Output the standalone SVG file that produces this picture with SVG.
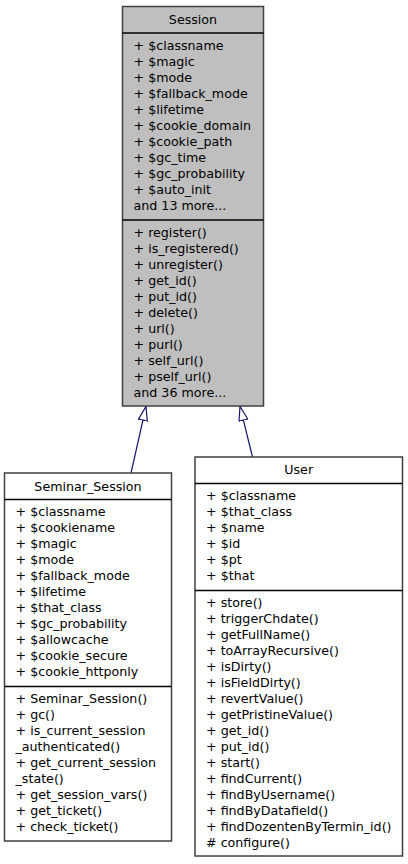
<svg xmlns="http://www.w3.org/2000/svg" width="408" height="864" viewBox="0 0 408 864">
<defs>
<style>
.box{stroke:#404040;stroke-width:1.5}
.cur{fill:#bfbfbf}
.plain{fill:#ffffff}
.sep{stroke:#000000;stroke-width:1.5}
text{font-family:"DejaVu Sans","Liberation Sans",sans-serif;font-size:12.67px;fill:#000000}
.t{text-anchor:middle}
.edge{stroke:#191970;stroke-width:1.2;fill:none;marker-end:url(#inh)}
</style>
<marker id="inh" markerUnits="userSpaceOnUse" markerWidth="16" markerHeight="11" refX="14.5" refY="5" orient="auto">
<path d="M0.5,0.5 L14.5,5 L0.5,9.5 Z" fill="#ffffff" stroke="#191970" stroke-width="1.2"/>
</marker>
</defs>
<rect width="408" height="864" fill="#ffffff"/>
<g id="connectors">
<line class="edge" x1="131" y1="473" x2="146" y2="406.5"/>
<line class="edge" x1="252.5" y1="457" x2="240" y2="406.5"/>
</g>
<g id="Session">
<rect class="box cur" x="122.5" y="6.5" width="141" height="399.5"/>
<line class="sep" x1="122.5" y1="33" x2="263.5" y2="33"/>
<line class="sep" x1="122.5" y1="220" x2="263.5" y2="220"/>
<text class="t" x="193" y="23.5">Session</text>
<text x="133.5" y="49.5">+ $classname</text>
<text x="133.5" y="65.5">+ $magic</text>
<text x="133.5" y="81.5">+ $mode</text>
<text x="133.5" y="97.5">+ $fallback_mode</text>
<text x="133.5" y="113.5">+ $lifetime</text>
<text x="133.5" y="129.5">+ $cookie_domain</text>
<text x="133.5" y="145.5">+ $cookie_path</text>
<text x="133.5" y="161.5">+ $gc_time</text>
<text x="133.5" y="177.5">+ $gc_probability</text>
<text x="133.5" y="193.5">+ $auto_init</text>
<text x="133.5" y="209.5">and 13 more...</text>
<text x="133.5" y="236.5">+ register()</text>
<text x="133.5" y="252.5">+ is_registered()</text>
<text x="133.5" y="268.5">+ unregister()</text>
<text x="133.5" y="284.5">+ get_id()</text>
<text x="133.5" y="300.5">+ put_id()</text>
<text x="133.5" y="316.5">+ delete()</text>
<text x="133.5" y="332.5">+ url()</text>
<text x="133.5" y="348.5">+ purl()</text>
<text x="133.5" y="364.5">+ self_url()</text>
<text x="133.5" y="380.5">+ pself_url()</text>
<text x="133.5" y="396.5">and 36 more...</text>
</g>
<g id="Seminar_Session">
<rect class="box plain" x="4.5" y="473" width="167" height="368"/>
<line class="sep" x1="4.5" y1="499.5" x2="171.5" y2="499.5"/>
<line class="sep" x1="4.5" y1="686.5" x2="171.5" y2="686.5"/>
<text class="t" x="88" y="490.5">Seminar_Session</text>
<text x="15.5" y="516">+ $classname</text>
<text x="15.5" y="532">+ $cookiename</text>
<text x="15.5" y="548">+ $magic</text>
<text x="15.5" y="564">+ $mode</text>
<text x="15.5" y="580">+ $fallback_mode</text>
<text x="15.5" y="596">+ $lifetime</text>
<text x="15.5" y="612">+ $that_class</text>
<text x="15.5" y="628">+ $gc_probability</text>
<text x="15.5" y="644">+ $allowcache</text>
<text x="15.5" y="660">+ $cookie_secure</text>
<text x="15.5" y="676">+ $cookie_httponly</text>
<text x="15.5" y="703">+ Seminar_Session()</text>
<text x="15.5" y="719">+ gc()</text>
<text x="15.5" y="735">+ is_current_session</text>
<text x="15.5" y="751">_authenticated()</text>
<text x="15.5" y="767">+ get_current_session</text>
<text x="15.5" y="783">_state()</text>
<text x="15.5" y="799">+ get_session_vars()</text>
<text x="15.5" y="815">+ get_ticket()</text>
<text x="15.5" y="831">+ check_ticket()</text>
</g>
<g id="User">
<rect class="box plain" x="195" y="457" width="207.5" height="399"/>
<line class="sep" x1="195" y1="483.5" x2="402.5" y2="483.5"/>
<line class="sep" x1="195" y1="590.5" x2="402.5" y2="590.5"/>
<text class="t" x="298.7" y="474">User</text>
<text x="206" y="500">+ $classname</text>
<text x="206" y="516">+ $that_class</text>
<text x="206" y="532">+ $name</text>
<text x="206" y="548">+ $id</text>
<text x="206" y="564">+ $pt</text>
<text x="206" y="580">+ $that</text>
<text x="206" y="606.5">+ store()</text>
<text x="206" y="622.5">+ triggerChdate()</text>
<text x="206" y="638.5">+ getFullName()</text>
<text x="206" y="654.5">+ toArrayRecursive()</text>
<text x="206" y="670.5">+ isDirty()</text>
<text x="206" y="686.5">+ isFieldDirty()</text>
<text x="206" y="702.5">+ revertValue()</text>
<text x="206" y="718.5">+ getPristineValue()</text>
<text x="206" y="734.5">+ get_id()</text>
<text x="206" y="750.5">+ put_id()</text>
<text x="206" y="766.5">+ start()</text>
<text x="206" y="782.5">+ findCurrent()</text>
<text x="206" y="798.5">+ findByUsername()</text>
<text x="206" y="814.5">+ findByDatafield()</text>
<text x="206" y="830.5">+ findDozentenByTermin_id()</text>
<text x="206" y="846.5"># configure()</text>
</g>
</svg>
